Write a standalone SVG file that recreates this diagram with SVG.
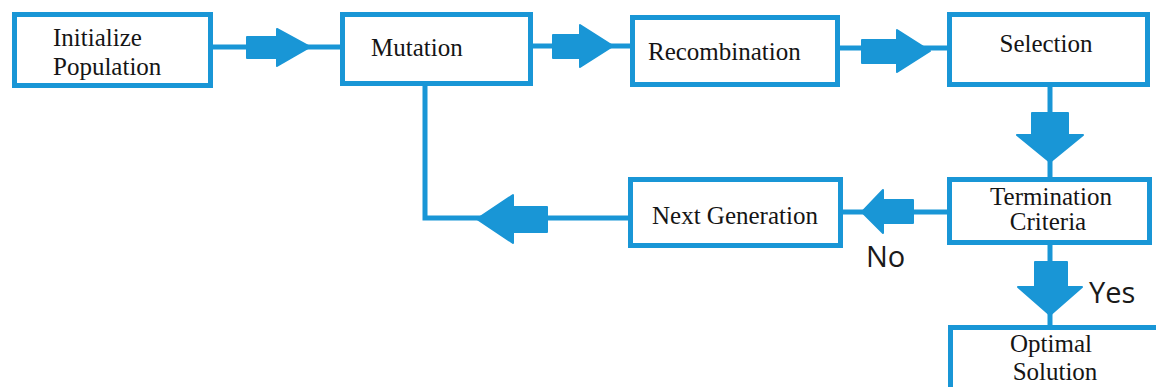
<svg xmlns="http://www.w3.org/2000/svg" width="1156" height="387" viewBox="0 0 1156 387">
<style>
.box{fill:#fff;stroke:#1996d6;stroke-width:5}
.ln{fill:none;stroke:#1996d6;stroke-width:5}
.ar{fill:#1996d6;stroke:#1996d6;stroke-width:2;stroke-linejoin:round}
.t{font-family:"Liberation Serif","Times New Roman",serif;font-size:25px;fill:#151515}
.m{text-anchor:middle}
.s{font-family:"Open Sans","Liberation Sans",sans-serif;font-size:29px;fill:#1a1a1a}
</style>
<rect width="1156" height="387" fill="#fff"/>
<g id="connectors">
<path class="ln" d="M213 47H340"/>
<polygon class="ar" points="247,37 277,37 277,29 310,47 277,66 277,58 247,58"/>
<path class="ln" d="M533 46H630"/>
<polygon class="ar" points="553,35 580,35 580,25 613,46 580,67 580,58 553,58"/>
<path class="ln" d="M840 48H947"/>
<polygon class="ar" points="862,40 897,40 897,30 930,51 897,72 897,63 862,63"/>
<path class="ln" d="M1050 87V177"/>
<polygon class="ar" points="1032,113 1068,113 1068,135 1083,135 1050,162 1017,135 1032,135"/>
<path class="ln" d="M947 212H843"/>
<polygon class="ar" points="913,200 913,223 883,223 883,233 862,212 883,190 883,200"/>
<path class="ln" d="M628 218H425V86"/>
<polygon class="ar" points="547,207 547,232 513,232 513,243 477,219 513,195 513,207"/>
<path class="ln" d="M1050 245V325"/>
<polygon class="ar" points="1035,262 1067,262 1067,287 1082,287 1050,315 1018,287 1035,287"/>
</g>
<g id="init"><rect class="box" x="14.5" y="14.5" width="196" height="71"/><text class="t" x="53" y="46">Initialize</text><text class="t" x="53" y="75">Population</text></g>
<g id="mutation"><rect class="box" x="342.5" y="14.5" width="188" height="69"/><text class="t" x="371" y="56">Mutation</text></g>
<g id="recombination"><rect class="box" x="632.5" y="17.5" width="205" height="67"/><text class="t" x="648" y="60">Recombination</text></g>
<g id="selection"><rect class="box" x="949.5" y="14.5" width="198" height="70"/><text class="t m" x="1046" y="52">Selection</text></g>
<g id="termination"><rect class="box" x="949.5" y="179.5" width="200" height="63"/><text class="t m" x="1051" y="205">Termination</text><text class="t m" x="1048" y="230">Criteria</text></g>
<g id="nextgen"><rect class="box" x="630.5" y="179.5" width="210" height="66"/><text class="t" x="652" y="224">Next Generation</text></g>
<g id="optimal"><rect class="box" x="950.5" y="327.5" width="210" height="70"/><text class="t m" x="1051" y="352">Optimal</text><text class="t m" x="1055" y="380">Solution</text></g>
<text class="s" x="866" y="267">No</text>
<text class="s" x="1089" y="303">Yes</text>
</svg>
